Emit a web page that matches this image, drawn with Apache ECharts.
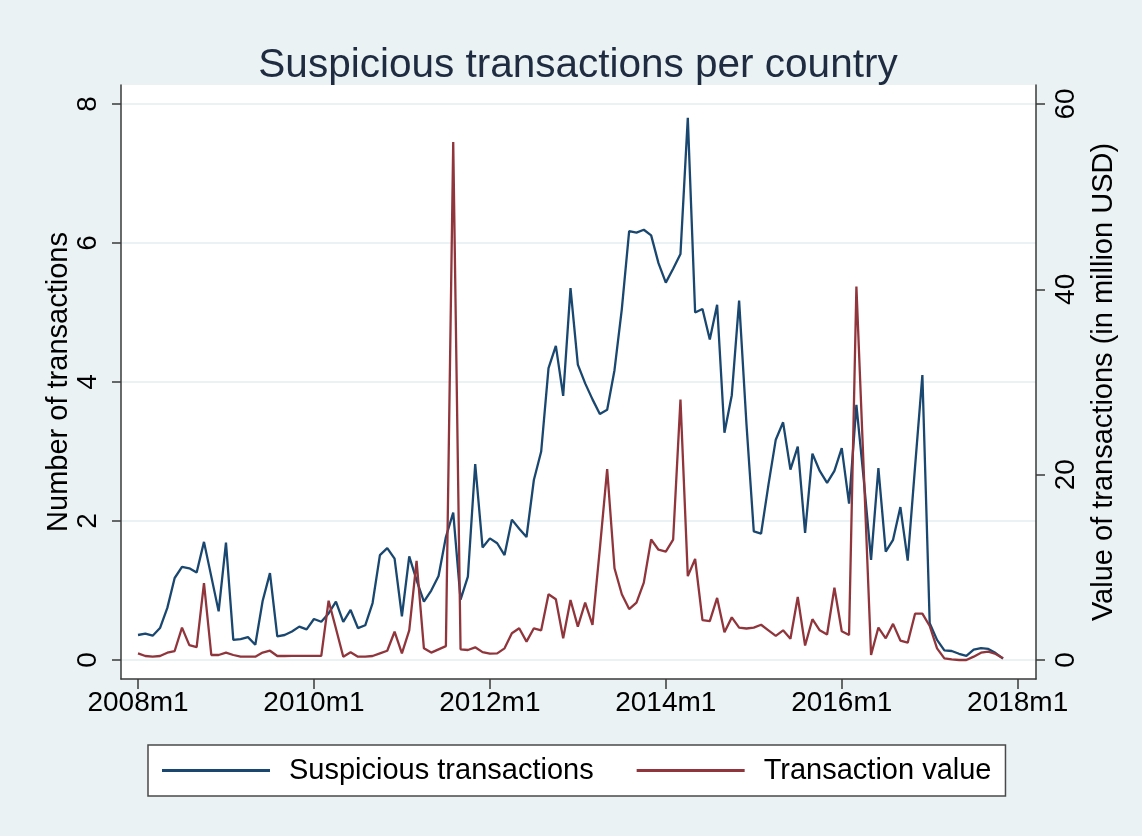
<!DOCTYPE html>
<html>
<head>
<meta charset="utf-8">
<title>Suspicious transactions per country</title>
<script src="https://cdn.jsdelivr.net/npm/echarts@6/dist/echarts.min.js"></script>
<style>
  html, body { margin: 0; padding: 0; background: #EAF2F3; }
  #chart { width: 1142px; height: 836px; }
</style>
</head>
<body>
<div id="chart"></div>
<script>
// Monthly series, 2008m1 .. 2017m11 (index 0 = 2008m1)
const suspicious = [
  0.36, 0.38, 0.35, 0.46, 0.75, 1.18, 1.34, 1.32, 1.26, 1.70, 1.20, 0.70,
  1.69, 0.29, 0.30, 0.33, 0.22, 0.85, 1.25, 0.34, 0.36, 0.41, 0.48, 0.44,
  0.59, 0.55, 0.67, 0.84, 0.55, 0.72, 0.46, 0.50, 0.82, 1.51, 1.61, 1.46,
  0.63, 1.49, 1.15, 0.84, 1.00, 1.21, 1.77, 2.12, 0.87, 1.20, 2.82, 1.62,
  1.75, 1.68, 1.51, 2.02, 1.89, 1.77, 2.59, 3.00, 4.20, 4.52, 3.80, 5.35,
  4.25, 3.98, 3.75, 3.54, 3.60, 4.17, 5.05, 6.17, 6.15, 6.19, 6.11, 5.71,
  5.43, 5.63, 5.84, 7.80, 5.00, 5.05, 4.61, 5.11, 3.27, 3.81, 5.17, 3.40,
  1.85, 1.82, 2.52, 3.17, 3.42, 2.74, 3.07, 1.83, 2.97, 2.72, 2.55, 2.72,
  3.05, 2.25, 3.67, 2.60, 1.44, 2.76, 1.56, 1.73, 2.20, 1.43, 2.78, 4.10,
  0.53, 0.29, 0.14, 0.13, 0.09, 0.06, 0.15, 0.17, 0.16, 0.10, 0.02
];
const transactionValue = [
  0.72, 0.43, 0.36, 0.43, 0.79, 0.97, 3.5, 1.6, 1.4, 8.3, 0.54, 0.54,
  0.79, 0.54, 0.36, 0.36, 0.36, 0.8, 1.0, 0.43, 0.43, 0.45, 0.45, 0.45,
  0.45, 0.45, 6.4, 3.4, 0.36, 0.83, 0.36, 0.36, 0.43, 0.72, 1.0, 3.05,
  0.72, 3.2, 10.7, 1.26, 0.8, 1.15, 1.5, 55.9, 1.15, 1.08, 1.37, 0.85,
  0.68, 0.72, 1.26, 2.88, 3.42, 1.98, 3.42, 3.2, 7.1, 6.55, 2.34, 6.47,
  3.6, 6.2, 3.78, 12.0, 20.6, 9.9, 7.1, 5.5, 6.2, 8.35, 13.0, 11.9,
  11.7, 13.0, 28.1, 9.05, 10.9, 4.3, 4.2, 6.7, 3.0, 4.6, 3.5, 3.4,
  3.5, 3.8, 3.2, 2.6, 3.2, 2.3, 6.8, 1.56, 4.4, 3.2, 2.75, 7.8,
  3.1, 2.7, 40.3, 20.5, 0.54, 3.5, 2.34, 3.9, 2.1, 1.87, 5.0, 5.0,
  3.67, 1.26, 0.18, 0.07, 0.0, 0.0, 0.36, 0.79, 0.9, 0.65, 0.18
];

// Axis ticks
const xTickValues = [0, 24, 48, 72, 96, 120];
const xTickLabels = ['2008m1', '2010m1', '2012m1', '2014m1', '2016m1', '2018m1'];
const leftTicks = [0, 2, 4, 6, 8];
const rightTicks = [0, 20, 40, 60];

const seriesNames = ['Suspicious transactions', 'Transaction value'];

const FONT = '"Liberation Sans", Arial, sans-serif';
const NAVY = '#1A476F';
const MAROON = '#90353B';
const AXIS = '#3a3a3a';
const GRIDLINE = '#EAF2F3';

const toPairs = arr => arr.map((v, i) => [i, v]);

const chart = echarts.init(document.getElementById('chart'), null, { renderer: 'canvas' });

const axisLineStyle = { show: true, onZero: false, lineStyle: { color: AXIS, width: 1.5 } };
const axisTickStyle = { show: true, length: 9, lineStyle: { color: AXIS, width: 1.5 } };
const labelStyle = { rotate: 90, fontFamily: FONT, fontSize: 28, color: '#000' };
const nameStyle = { fontFamily: FONT, fontSize: 29, color: '#000' };

chart.setOption({
  backgroundColor: '#EAF2F3',
  animation: false,
  title: {
    text: 'Suspicious transactions per country',
    left: 573,
    textAlign: 'center',
    top: 40,
    textStyle: { fontFamily: FONT, fontSize: 40.5, fontWeight: 'normal', color: '#1E2B40' }
  },
  legend: {
    data: seriesNames,
    left: 148,
    top: 745,
    icon: 'rect',
    itemWidth: 108,
    itemHeight: 3,
    itemGap: 43,
    padding: [11, 14, 11, 14],
    backgroundColor: '#ffffff',
    borderColor: '#4a4a4a',
    borderWidth: 1.5,
    borderRadius: 0,
    textStyle: { fontFamily: FONT, fontSize: 29, color: '#000', padding: [0, 0, 0, 14] }
  },
  grid: {
    left: 121, right: 106, top: 85, bottom: 157,
    show: true, backgroundColor: '#ffffff', borderWidth: 0,
    containLabel: false
  },
  xAxis: {
    type: 'value',
    min: -2.32,
    max: 122.5,
    splitLine: { show: false },
    axisLine: axisLineStyle,
    axisTick: Object.assign({}, axisTickStyle, { length: 10, customValues: xTickValues }),
    axisLabel: {
      customValues: xTickValues,
      fontFamily: FONT, fontSize: 28, color: '#000', margin: 10,
      formatter: v => xTickLabels[xTickValues.indexOf(v)] || ''
    }
  },
  yAxis: [
    {
      type: 'value',
      position: 'left',
      min: -0.273,
      max: 8.273,
      name: 'Number of transactions',
      nameLocation: 'middle',
      nameRotate: 90,
      nameGap: 48,
      nameMoveOverlap: false,
      nameTextStyle: nameStyle,
      axisLine: axisLineStyle,
      axisTick: Object.assign({}, axisTickStyle, { customValues: leftTicks }),
      axisLabel: Object.assign({}, labelStyle, { customValues: leftTicks, margin: 19 }),
      splitLine: { show: true, lineStyle: { color: GRIDLINE, width: 2 } }
    },
    {
      type: 'value',
      position: 'right',
      min: -2.05,
      max: 62.05,
      name: 'Value of transactions (in million USD)',
      nameLocation: 'middle',
      nameRotate: 90,
      nameGap: 53,
      nameMoveOverlap: false,
      nameTextStyle: nameStyle,
      axisLine: axisLineStyle,
      axisTick: Object.assign({}, axisTickStyle, { customValues: rightTicks }),
      axisLabel: Object.assign({}, labelStyle, { customValues: rightTicks, margin: 16 }),
      splitLine: { show: false }
    }
  ],
  series: [
    {
      name: seriesNames[0],
      type: 'line',
      yAxisIndex: 0,
      data: toPairs(suspicious),
      symbol: 'none',
      lineStyle: { color: NAVY, width: 2.3 },
      itemStyle: { color: NAVY },
      z: 3
    },
    {
      name: seriesNames[1],
      type: 'line',
      yAxisIndex: 1,
      data: toPairs(transactionValue),
      symbol: 'none',
      lineStyle: { color: MAROON, width: 2.3 },
      itemStyle: { color: MAROON },
      z: 4
    }
  ]
});
</script>
</body>
</html>
